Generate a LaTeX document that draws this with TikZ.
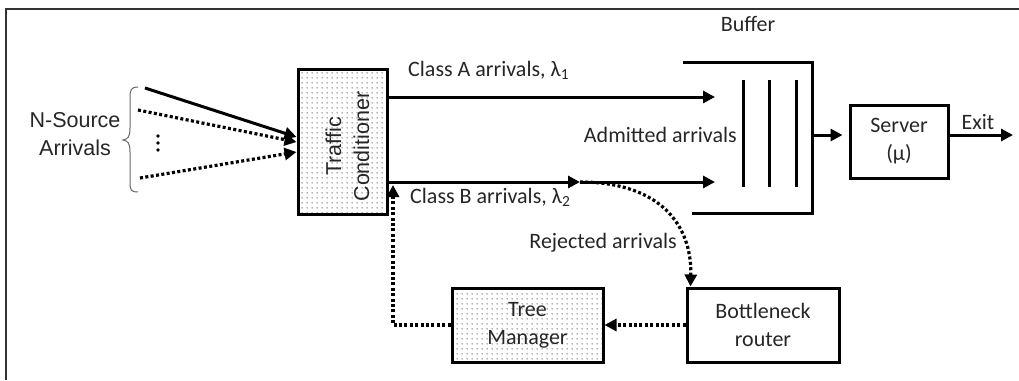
\documentclass[tikz,border=0pt]{standalone}
\usepackage{fontspec}
\setmainfont{Carlito}
\newfontfamily\arialf{Liberation Sans}
\usetikzlibrary{arrows.meta,patterns.meta,calc}
\tikzdeclarepattern{name=stipple, type=uncolored, bounding box={(0pt,0pt) and (5pt,5pt)}, tile size={(5pt,5pt)}, code={\fill (2.5pt,2.5pt) circle (0.75pt);}}
\tikzset{
 ln/.style={line width=3pt},
 arr/.style={ln, -{Triangle[length=12pt,width=12pt]}},
 dotl/.style={line width=3.2pt, dash pattern=on 3pt off 2.4pt},
 darr/.style={dotl, -{Triangle[length=12pt,width=12pt]}},
 box/.style={draw, line width=3pt, inner sep=0pt, align=center, font=\fontsize{22}{28}\selectfont, text=black!85},
 stip/.style={pattern={stipple}, pattern color=black!80},
 lbl/.style={font=\fontsize{22}{27}\selectfont, inner sep=0pt, text=black!85},
 alb/.style={font=\arialf\fontsize{21.5}{28}\selectfont, inner sep=0pt, align=center, text=black!85},
}
\begin{document}
\begin{tikzpicture}[x=1pt,y=-1pt]
\useasboundingbox (0,0) rectangle (1019,380);
\draw[line width=2pt, black!80] (6,380) -- (6,9) -- (1019,9);
% nodes
\node[box, stip, minimum width=89, minimum height=145] (tc) at (342.5,141.5) {};
\node[alb, rotate=90] (tct) at ($(tc.center)+(5,5)$) {Traffic\\Conditioner};
\node[box, minimum width=98, minimum height=73] (server) at (899,141.5) {Server\\(μ)};
\node[box, minimum width=152, minimum height=74] (bn) at (763,325) {Bottleneck\\router};
\node[box, stip, minimum width=151, minimum height=74] (tm) at (527.5,325) {Tree\\Manager};
% labels
\node[alb] (nsrc) at (75,134) {N-Source\\Arrivals};
\node[lbl] (buf) at (748,24) {Buffer};
\node[lbl, anchor=west] (cla) at (408,70) {Class A arrivals, λ\textsubscript{1}};
\node[lbl, anchor=west] (clb) at (410,197) {Class B arrivals, λ\textsubscript{2}};
\node[lbl, anchor=east] (adm) at (737,135) {Admitted arrivals};
\node[lbl, anchor=east] (rej) at (677,243) {Rejected arrivals};
\node[lbl, anchor=south] (exit) at (978,130) {Exit};
% brace
\draw[line width=1pt, black!60] (138,87) .. controls (131,87) and (130,90) .. (130,98) -- (130,128) .. controls (130,137) and (128,139) .. (123,140) .. controls (128,141) and (130,143) .. (130,152) -- (130,182) .. controls (130,190) and (131,192) .. (138,192);
% sources
\coordinate (s1) at (145,88);
\coordinate (s2) at (138,110);
\coordinate (s3) at (140,178);
\draw[arr] (s1) -- ($(tc.west)+(0,-4.5)$);
\draw[darr] (s2) -- ($(tc.west)+(0,0.5)$);
\draw[darr] (s3) -- ($(tc.west)+(0,10.5)$);
\foreach \yy in {136,143,150} \fill (158,\yy) circle (1.8);
% buffer
\draw[ln] (683,62) -| (812,213) -- (692,213);
\foreach \xx in {743,769,796} \draw[ln] (\xx,80) -- (\xx,187);
\coordinate (bufout) at (812,135);
% class arrows
\coordinate (aend) at (715,97);
\coordinate (split) at (580,182);
\coordinate (bend) at (715,182);
\draw[arr] (tc.east |- aend) -- (aend);
\draw[arr] (tc.east |- split) -- (split);
\draw[arr] (split) -- (bend);
\draw[arr, shorten >=6pt] (bufout) -- (server.west |- bufout);
\coordinate (exitend) at (1013,135);
\draw[arr] (server.east |- exitend) -- (exitend);
% rejected
\coordinate (rj) at ($(bn.north west)+(5,0)$);
\draw[darr] (split) .. controls (660,182) and (692,225) .. (rj);
\draw[darr] (bn.west) -- (tm.east);
\coordinate (fbtop) at (393,185);
\draw[darr] (tm.west) -| (fbtop);
\end{tikzpicture}
\end{document}
